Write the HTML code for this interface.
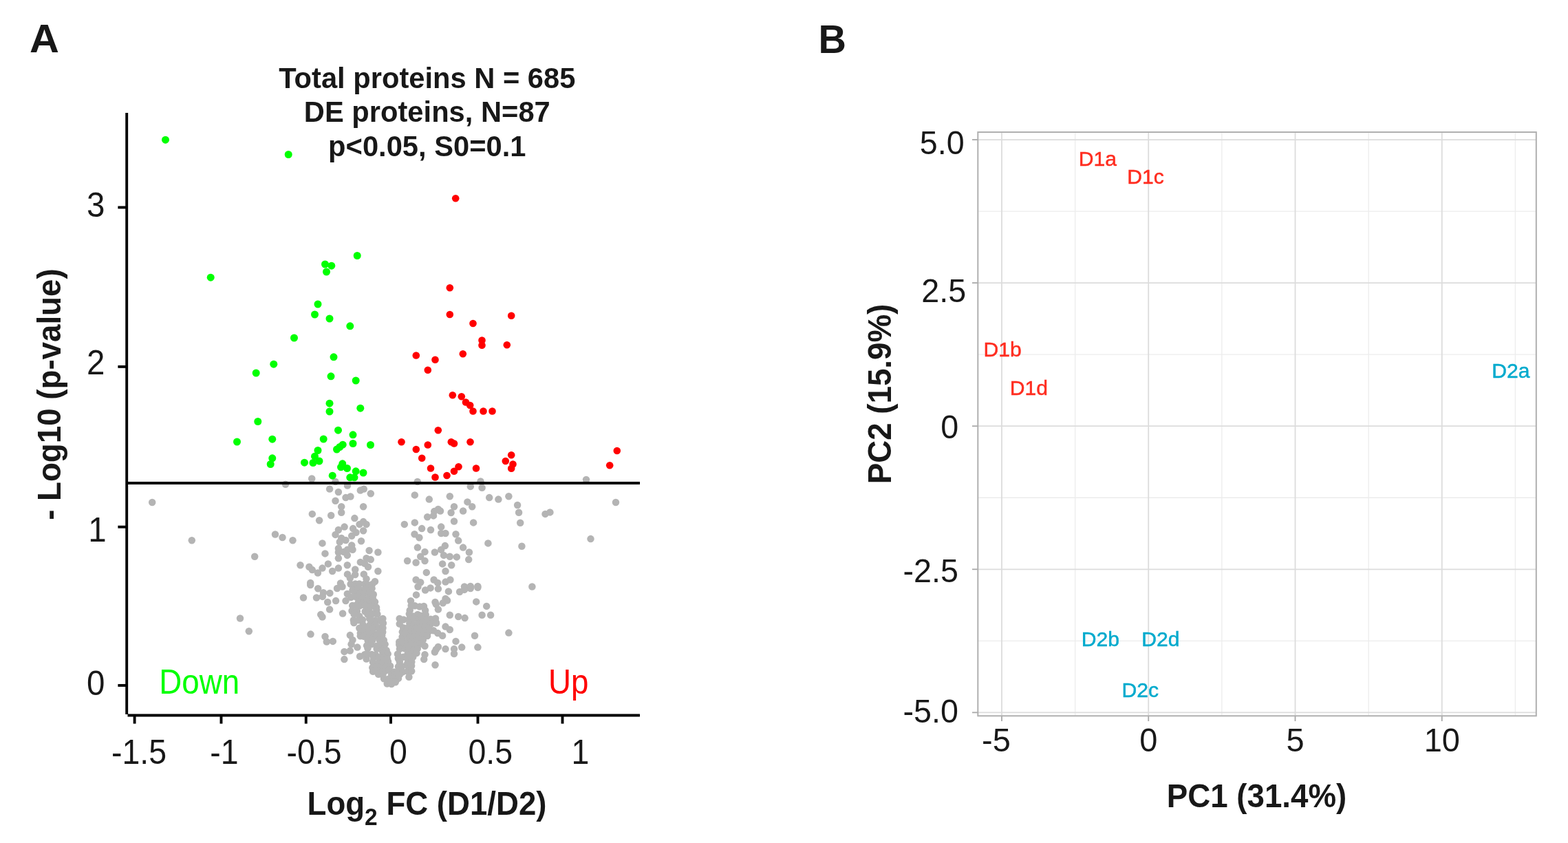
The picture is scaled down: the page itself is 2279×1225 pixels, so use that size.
<!DOCTYPE html>
<html lang="en"><head><meta charset="utf-8"><title>Figure</title>
<style>
html,body{margin:0;padding:0;background:#fff;}
body{width:2279px;height:1225px;overflow:hidden;}
svg{display:block;}
text{font-family:"Liberation Sans",sans-serif;}
.b{font-weight:bold;}
</style></head><body>
<svg width="2279" height="1225" viewBox="0 0 2279 1225">
<rect width="2279" height="1225" fill="#ffffff"/>
<g id="panelA">
<text transform="translate(43,76.2) scale(1,0.97)" font-size="59.5" fill="#181818" class="b">A</text>
<text transform="translate(620.8,128.3) scale(1,1.035)" font-size="41.7" fill="#181818" text-anchor="middle" class="b">Total proteins N = 685</text>
<text transform="translate(620.8,177.2) scale(1,1.035)" font-size="41.7" fill="#181818" text-anchor="middle" class="b">DE proteins, N=87</text>
<text transform="translate(620.8,226.6) scale(1,1.035)" font-size="41.7" fill="#181818" text-anchor="middle" class="b">p&lt;0.05, S0=0.1</text>
<g fill="#b4b4b4">
<circle cx="221.2" cy="730.0" r="5.25"/>
<circle cx="415.0" cy="703.8" r="5.25"/>
<circle cx="453.2" cy="695.5" r="5.25"/>
<circle cx="487.5" cy="700.0" r="5.25"/>
<circle cx="606.8" cy="700.0" r="5.25"/>
<circle cx="698.5" cy="699.5" r="5.25"/>
<circle cx="852.0" cy="697.0" r="5.25"/>
<circle cx="278.8" cy="785.2" r="5.25"/>
<circle cx="400.0" cy="776.5" r="5.25"/>
<circle cx="410.5" cy="781.0" r="5.25"/>
<circle cx="425.5" cy="785.2" r="5.25"/>
<circle cx="370.2" cy="808.8" r="5.25"/>
<circle cx="349.0" cy="898.5" r="5.25"/>
<circle cx="361.8" cy="917.2" r="5.25"/>
<circle cx="479.1" cy="710.6" r="5.25"/>
<circle cx="491.9" cy="715.0" r="5.25"/>
<circle cx="505.0" cy="705.6" r="5.25"/>
<circle cx="523.8" cy="712.5" r="5.25"/>
<circle cx="528.8" cy="710.6" r="5.25"/>
<circle cx="538.8" cy="717.2" r="5.25"/>
<circle cx="502.5" cy="723.1" r="5.25"/>
<circle cx="509.4" cy="721.5" r="5.25"/>
<circle cx="487.5" cy="727.8" r="5.25"/>
<circle cx="496.2" cy="736.2" r="5.25"/>
<circle cx="528.1" cy="736.2" r="5.25"/>
<circle cx="496.2" cy="744.8" r="5.25"/>
<circle cx="453.8" cy="746.9" r="5.25"/>
<circle cx="481.2" cy="749.0" r="5.25"/>
<circle cx="464.1" cy="756.2" r="5.25"/>
<circle cx="515.4" cy="753.1" r="5.25"/>
<circle cx="528.1" cy="758.1" r="5.25"/>
<circle cx="522.5" cy="761.9" r="5.25"/>
<circle cx="532.5" cy="761.9" r="5.25"/>
<circle cx="500.6" cy="765.6" r="5.25"/>
<circle cx="513.1" cy="768.1" r="5.25"/>
<circle cx="491.9" cy="770.0" r="5.25"/>
<circle cx="528.1" cy="771.2" r="5.25"/>
<circle cx="487.5" cy="776.9" r="5.25"/>
<circle cx="517.5" cy="773.8" r="5.25"/>
<circle cx="511.2" cy="778.8" r="5.25"/>
<circle cx="496.2" cy="781.9" r="5.25"/>
<circle cx="502.5" cy="785.0" r="5.25"/>
<circle cx="493.8" cy="787.5" r="5.25"/>
<circle cx="525.0" cy="786.2" r="5.25"/>
<circle cx="468.5" cy="789.4" r="5.25"/>
<circle cx="511.2" cy="792.5" r="5.25"/>
<circle cx="491.9" cy="796.9" r="5.25"/>
<circle cx="505.0" cy="798.8" r="5.25"/>
<circle cx="512.5" cy="798.8" r="5.25"/>
<circle cx="491.9" cy="802.5" r="5.25"/>
<circle cx="499.4" cy="801.9" r="5.25"/>
<circle cx="504.8" cy="806.9" r="5.25"/>
<circle cx="472.5" cy="804.4" r="5.25"/>
<circle cx="491.9" cy="811.2" r="5.25"/>
<circle cx="536.6" cy="800.0" r="5.25"/>
<circle cx="549.4" cy="802.5" r="5.25"/>
<circle cx="532.5" cy="811.2" r="5.25"/>
<circle cx="538.8" cy="813.1" r="5.25"/>
<circle cx="523.8" cy="816.9" r="5.25"/>
<circle cx="530.0" cy="818.8" r="5.25"/>
<circle cx="535.0" cy="823.8" r="5.25"/>
<circle cx="436.5" cy="821.2" r="5.25"/>
<circle cx="449.4" cy="823.8" r="5.25"/>
<circle cx="453.8" cy="828.1" r="5.25"/>
<circle cx="461.9" cy="832.5" r="5.25"/>
<circle cx="468.5" cy="825.6" r="5.25"/>
<circle cx="476.9" cy="819.4" r="5.25"/>
<circle cx="483.1" cy="830.0" r="5.25"/>
<circle cx="491.9" cy="825.6" r="5.25"/>
<circle cx="504.8" cy="821.2" r="5.25"/>
<circle cx="516.2" cy="827.5" r="5.25"/>
<circle cx="549.4" cy="830.0" r="5.25"/>
<circle cx="505.0" cy="834.4" r="5.25"/>
<circle cx="516.2" cy="835.0" r="5.25"/>
<circle cx="528.8" cy="834.4" r="5.25"/>
<circle cx="508.8" cy="840.0" r="5.25"/>
<circle cx="532.5" cy="841.2" r="5.25"/>
<circle cx="545.0" cy="845.0" r="5.25"/>
<circle cx="451.2" cy="846.9" r="5.25"/>
<circle cx="495.0" cy="847.5" r="5.25"/>
<circle cx="530.0" cy="848.8" r="5.25"/>
<circle cx="516.2" cy="851.2" r="5.25"/>
<circle cx="683.8" cy="706.9" r="5.25"/>
<circle cx="700.6" cy="708.8" r="5.25"/>
<circle cx="602.8" cy="719.4" r="5.25"/>
<circle cx="623.8" cy="725.6" r="5.25"/>
<circle cx="653.8" cy="721.2" r="5.25"/>
<circle cx="711.2" cy="723.1" r="5.25"/>
<circle cx="679.4" cy="729.4" r="5.25"/>
<circle cx="686.2" cy="736.2" r="5.25"/>
<circle cx="660.0" cy="736.2" r="5.25"/>
<circle cx="673.1" cy="742.5" r="5.25"/>
<circle cx="636.9" cy="740.0" r="5.25"/>
<circle cx="631.2" cy="743.1" r="5.25"/>
<circle cx="640.0" cy="742.5" r="5.25"/>
<circle cx="655.6" cy="745.0" r="5.25"/>
<circle cx="621.2" cy="751.2" r="5.25"/>
<circle cx="630.0" cy="749.4" r="5.25"/>
<circle cx="660.0" cy="757.5" r="5.25"/>
<circle cx="688.1" cy="759.4" r="5.25"/>
<circle cx="587.8" cy="761.9" r="5.25"/>
<circle cx="602.8" cy="759.4" r="5.25"/>
<circle cx="613.1" cy="768.1" r="5.25"/>
<circle cx="626.0" cy="770.0" r="5.25"/>
<circle cx="641.2" cy="765.6" r="5.25"/>
<circle cx="641.2" cy="775.0" r="5.25"/>
<circle cx="647.5" cy="775.0" r="5.25"/>
<circle cx="602.5" cy="776.2" r="5.25"/>
<circle cx="609.4" cy="781.2" r="5.25"/>
<circle cx="662.5" cy="776.2" r="5.25"/>
<circle cx="666.2" cy="785.6" r="5.25"/>
<circle cx="709.4" cy="789.4" r="5.25"/>
<circle cx="606.9" cy="795.6" r="5.25"/>
<circle cx="646.9" cy="793.1" r="5.25"/>
<circle cx="673.1" cy="795.6" r="5.25"/>
<circle cx="617.5" cy="801.9" r="5.25"/>
<circle cx="631.9" cy="802.5" r="5.25"/>
<circle cx="641.2" cy="798.8" r="5.25"/>
<circle cx="681.9" cy="802.5" r="5.25"/>
<circle cx="645.0" cy="806.9" r="5.25"/>
<circle cx="653.8" cy="808.8" r="5.25"/>
<circle cx="663.8" cy="809.4" r="5.25"/>
<circle cx="611.2" cy="808.8" r="5.25"/>
<circle cx="681.2" cy="813.1" r="5.25"/>
<circle cx="592.1" cy="815.0" r="5.25"/>
<circle cx="604.6" cy="817.5" r="5.25"/>
<circle cx="617.5" cy="815.0" r="5.25"/>
<circle cx="643.1" cy="819.4" r="5.25"/>
<circle cx="656.2" cy="821.2" r="5.25"/>
<circle cx="647.5" cy="830.0" r="5.25"/>
<circle cx="619.8" cy="831.9" r="5.25"/>
<circle cx="604.6" cy="842.5" r="5.25"/>
<circle cx="611.2" cy="846.2" r="5.25"/>
<circle cx="630.6" cy="842.5" r="5.25"/>
<circle cx="636.2" cy="846.9" r="5.25"/>
<circle cx="647.5" cy="845.6" r="5.25"/>
<circle cx="654.4" cy="842.5" r="5.25"/>
<circle cx="675.0" cy="852.5" r="5.25"/>
<circle cx="683.8" cy="851.9" r="5.25"/>
<circle cx="694.4" cy="851.9" r="5.25"/>
<circle cx="724.4" cy="725.6" r="5.25"/>
<circle cx="739.4" cy="721.2" r="5.25"/>
<circle cx="752.1" cy="734.0" r="5.25"/>
<circle cx="754.1" cy="744.8" r="5.25"/>
<circle cx="792.5" cy="746.9" r="5.25"/>
<circle cx="799.4" cy="744.4" r="5.25"/>
<circle cx="756.2" cy="759.8" r="5.25"/>
<circle cx="895.0" cy="730.0" r="5.25"/>
<circle cx="858.5" cy="783.1" r="5.25"/>
<circle cx="758.4" cy="793.8" r="5.25"/>
<circle cx="773.4" cy="852.5" r="5.25"/>
<circle cx="441.0" cy="868.5" r="5.25"/>
<circle cx="462.2" cy="855.2" r="5.25"/>
<circle cx="451.2" cy="850.0" r="5.25"/>
<circle cx="470.0" cy="861.2" r="5.25"/>
<circle cx="479.4" cy="861.9" r="5.25"/>
<circle cx="460.0" cy="868.5" r="5.25"/>
<circle cx="468.8" cy="866.9" r="5.25"/>
<circle cx="476.2" cy="875.0" r="5.25"/>
<circle cx="488.1" cy="873.1" r="5.25"/>
<circle cx="490.0" cy="855.0" r="5.25"/>
<circle cx="497.5" cy="852.5" r="5.25"/>
<circle cx="502.5" cy="873.1" r="5.25"/>
<circle cx="479.1" cy="885.6" r="5.25"/>
<circle cx="466.2" cy="893.1" r="5.25"/>
<circle cx="468.5" cy="896.5" r="5.25"/>
<circle cx="498.1" cy="891.5" r="5.25"/>
<circle cx="451.5" cy="921.6" r="5.25"/>
<circle cx="472.5" cy="925.0" r="5.25"/>
<circle cx="474.8" cy="932.5" r="5.25"/>
<circle cx="483.8" cy="931.9" r="5.25"/>
<circle cx="508.8" cy="923.1" r="5.25"/>
<circle cx="512.5" cy="930.0" r="5.25"/>
<circle cx="510.6" cy="936.2" r="5.25"/>
<circle cx="519.4" cy="940.6" r="5.25"/>
<circle cx="508.8" cy="945.6" r="5.25"/>
<circle cx="500.4" cy="946.9" r="5.25"/>
<circle cx="500.4" cy="958.1" r="5.25"/>
<circle cx="523.1" cy="953.8" r="5.25"/>
<circle cx="530.0" cy="951.2" r="5.25"/>
<circle cx="532.5" cy="957.5" r="5.25"/>
<circle cx="694.4" cy="853.8" r="5.25"/>
<circle cx="683.8" cy="855.0" r="5.25"/>
<circle cx="675.0" cy="856.9" r="5.25"/>
<circle cx="668.1" cy="860.0" r="5.25"/>
<circle cx="651.9" cy="859.4" r="5.25"/>
<circle cx="636.9" cy="855.6" r="5.25"/>
<circle cx="625.6" cy="854.4" r="5.25"/>
<circle cx="618.1" cy="857.5" r="5.25"/>
<circle cx="607.5" cy="852.5" r="5.25"/>
<circle cx="605.0" cy="864.4" r="5.25"/>
<circle cx="647.5" cy="870.0" r="5.25"/>
<circle cx="650.0" cy="872.5" r="5.25"/>
<circle cx="643.8" cy="876.2" r="5.25"/>
<circle cx="632.5" cy="875.0" r="5.25"/>
<circle cx="633.8" cy="878.1" r="5.25"/>
<circle cx="636.9" cy="885.6" r="5.25"/>
<circle cx="692.2" cy="874.4" r="5.25"/>
<circle cx="707.2" cy="880.9" r="5.25"/>
<circle cx="653.8" cy="893.8" r="5.25"/>
<circle cx="666.2" cy="896.0" r="5.25"/>
<circle cx="675.6" cy="898.1" r="5.25"/>
<circle cx="700.6" cy="893.8" r="5.25"/>
<circle cx="713.1" cy="893.8" r="5.25"/>
<circle cx="647.5" cy="910.6" r="5.25"/>
<circle cx="653.8" cy="915.0" r="5.25"/>
<circle cx="633.8" cy="904.4" r="5.25"/>
<circle cx="627.5" cy="904.4" r="5.25"/>
<circle cx="630.0" cy="916.2" r="5.25"/>
<circle cx="636.2" cy="920.0" r="5.25"/>
<circle cx="643.1" cy="923.8" r="5.25"/>
<circle cx="690.0" cy="923.8" r="5.25"/>
<circle cx="662.5" cy="931.9" r="5.25"/>
<circle cx="671.2" cy="940.6" r="5.25"/>
<circle cx="694.4" cy="940.6" r="5.25"/>
<circle cx="660.0" cy="943.1" r="5.25"/>
<circle cx="660.0" cy="950.0" r="5.25"/>
<circle cx="647.5" cy="943.1" r="5.25"/>
<circle cx="636.9" cy="940.0" r="5.25"/>
<circle cx="633.8" cy="943.8" r="5.25"/>
<circle cx="631.9" cy="947.5" r="5.25"/>
<circle cx="617.5" cy="938.8" r="5.25"/>
<circle cx="617.5" cy="951.2" r="5.25"/>
<circle cx="616.2" cy="958.1" r="5.25"/>
<circle cx="632.5" cy="966.2" r="5.25"/>
<circle cx="594.4" cy="983.8" r="5.25"/>
<circle cx="739.4" cy="919.6" r="5.25"/>
<circle cx="509.6" cy="848.8" r="5.25"/>
<circle cx="516.5" cy="848.5" r="5.25"/>
<circle cx="522.1" cy="848.5" r="5.25"/>
<circle cx="534.1" cy="849.7" r="5.25"/>
<circle cx="541.1" cy="849.0" r="5.25"/>
<circle cx="512.4" cy="857.8" r="5.25"/>
<circle cx="519.4" cy="855.9" r="5.25"/>
<circle cx="525.1" cy="857.5" r="5.25"/>
<circle cx="532.4" cy="854.9" r="5.25"/>
<circle cx="540.6" cy="855.1" r="5.25"/>
<circle cx="504.8" cy="863.0" r="5.25"/>
<circle cx="516.3" cy="861.5" r="5.25"/>
<circle cx="523.6" cy="861.8" r="5.25"/>
<circle cx="530.0" cy="861.8" r="5.25"/>
<circle cx="536.9" cy="861.6" r="5.25"/>
<circle cx="542.8" cy="863.8" r="5.25"/>
<circle cx="510.0" cy="868.0" r="5.25"/>
<circle cx="517.3" cy="867.4" r="5.25"/>
<circle cx="523.1" cy="867.5" r="5.25"/>
<circle cx="527.6" cy="869.3" r="5.25"/>
<circle cx="535.3" cy="870.1" r="5.25"/>
<circle cx="541.7" cy="869.1" r="5.25"/>
<circle cx="521.1" cy="874.8" r="5.25"/>
<circle cx="527.9" cy="876.6" r="5.25"/>
<circle cx="533.5" cy="873.5" r="5.25"/>
<circle cx="539.6" cy="876.7" r="5.25"/>
<circle cx="545.0" cy="874.6" r="5.25"/>
<circle cx="597.0" cy="873.3" r="5.25"/>
<circle cx="512.2" cy="880.1" r="5.25"/>
<circle cx="517.1" cy="879.7" r="5.25"/>
<circle cx="522.9" cy="880.4" r="5.25"/>
<circle cx="530.6" cy="879.8" r="5.25"/>
<circle cx="535.6" cy="882.6" r="5.25"/>
<circle cx="542.2" cy="880.5" r="5.25"/>
<circle cx="547.0" cy="882.6" r="5.25"/>
<circle cx="597.7" cy="880.0" r="5.25"/>
<circle cx="602.9" cy="880.3" r="5.25"/>
<circle cx="610.0" cy="881.6" r="5.25"/>
<circle cx="616.0" cy="881.0" r="5.25"/>
<circle cx="511.5" cy="887.7" r="5.25"/>
<circle cx="518.8" cy="888.2" r="5.25"/>
<circle cx="530.7" cy="888.5" r="5.25"/>
<circle cx="536.5" cy="887.1" r="5.25"/>
<circle cx="547.3" cy="886.5" r="5.25"/>
<circle cx="595.7" cy="886.9" r="5.25"/>
<circle cx="618.1" cy="887.0" r="5.25"/>
<circle cx="514.6" cy="892.4" r="5.25"/>
<circle cx="522.3" cy="895.5" r="5.25"/>
<circle cx="534.5" cy="892.9" r="5.25"/>
<circle cx="540.8" cy="892.1" r="5.25"/>
<circle cx="548.4" cy="892.5" r="5.25"/>
<circle cx="594.8" cy="892.1" r="5.25"/>
<circle cx="600.7" cy="895.4" r="5.25"/>
<circle cx="607.1" cy="892.9" r="5.25"/>
<circle cx="611.6" cy="894.7" r="5.25"/>
<circle cx="618.7" cy="893.2" r="5.25"/>
<circle cx="513.8" cy="901.1" r="5.25"/>
<circle cx="521.4" cy="901.2" r="5.25"/>
<circle cx="527.0" cy="900.8" r="5.25"/>
<circle cx="537.2" cy="899.2" r="5.25"/>
<circle cx="544.9" cy="901.6" r="5.25"/>
<circle cx="551.5" cy="901.7" r="5.25"/>
<circle cx="556.4" cy="899.0" r="5.25"/>
<circle cx="580.7" cy="898.9" r="5.25"/>
<circle cx="586.7" cy="900.4" r="5.25"/>
<circle cx="594.8" cy="899.9" r="5.25"/>
<circle cx="601.2" cy="898.5" r="5.25"/>
<circle cx="607.9" cy="901.0" r="5.25"/>
<circle cx="613.3" cy="898.9" r="5.25"/>
<circle cx="619.4" cy="901.1" r="5.25"/>
<circle cx="626.0" cy="899.7" r="5.25"/>
<circle cx="633.0" cy="898.8" r="5.25"/>
<circle cx="514.4" cy="905.0" r="5.25"/>
<circle cx="527.7" cy="907.9" r="5.25"/>
<circle cx="537.7" cy="907.9" r="5.25"/>
<circle cx="545.1" cy="907.8" r="5.25"/>
<circle cx="556.9" cy="905.5" r="5.25"/>
<circle cx="580.7" cy="906.6" r="5.25"/>
<circle cx="595.3" cy="905.7" r="5.25"/>
<circle cx="601.1" cy="907.7" r="5.25"/>
<circle cx="608.5" cy="906.3" r="5.25"/>
<circle cx="614.2" cy="904.6" r="5.25"/>
<circle cx="620.0" cy="904.5" r="5.25"/>
<circle cx="626.6" cy="906.2" r="5.25"/>
<circle cx="634.1" cy="905.6" r="5.25"/>
<circle cx="522.3" cy="912.7" r="5.25"/>
<circle cx="529.8" cy="911.1" r="5.25"/>
<circle cx="535.3" cy="911.7" r="5.25"/>
<circle cx="542.8" cy="912.7" r="5.25"/>
<circle cx="550.7" cy="912.3" r="5.25"/>
<circle cx="556.5" cy="912.5" r="5.25"/>
<circle cx="586.2" cy="912.3" r="5.25"/>
<circle cx="592.4" cy="912.4" r="5.25"/>
<circle cx="599.2" cy="913.8" r="5.25"/>
<circle cx="604.4" cy="912.7" r="5.25"/>
<circle cx="612.2" cy="911.2" r="5.25"/>
<circle cx="617.5" cy="911.0" r="5.25"/>
<circle cx="623.6" cy="913.1" r="5.25"/>
<circle cx="523.8" cy="920.1" r="5.25"/>
<circle cx="529.2" cy="919.5" r="5.25"/>
<circle cx="535.8" cy="920.1" r="5.25"/>
<circle cx="542.6" cy="920.3" r="5.25"/>
<circle cx="549.9" cy="920.5" r="5.25"/>
<circle cx="556.2" cy="918.5" r="5.25"/>
<circle cx="584.8" cy="918.2" r="5.25"/>
<circle cx="590.5" cy="918.1" r="5.25"/>
<circle cx="596.6" cy="918.9" r="5.25"/>
<circle cx="603.2" cy="918.2" r="5.25"/>
<circle cx="610.9" cy="917.2" r="5.25"/>
<circle cx="618.2" cy="920.4" r="5.25"/>
<circle cx="623.8" cy="917.1" r="5.25"/>
<circle cx="523.8" cy="924.2" r="5.25"/>
<circle cx="528.9" cy="924.7" r="5.25"/>
<circle cx="537.0" cy="924.2" r="5.25"/>
<circle cx="543.6" cy="925.2" r="5.25"/>
<circle cx="547.9" cy="923.5" r="5.25"/>
<circle cx="555.2" cy="923.5" r="5.25"/>
<circle cx="584.6" cy="925.5" r="5.25"/>
<circle cx="591.1" cy="923.5" r="5.25"/>
<circle cx="595.5" cy="926.3" r="5.25"/>
<circle cx="602.4" cy="925.2" r="5.25"/>
<circle cx="608.5" cy="923.7" r="5.25"/>
<circle cx="614.6" cy="923.6" r="5.25"/>
<circle cx="621.1" cy="924.0" r="5.25"/>
<circle cx="534.6" cy="930.6" r="5.25"/>
<circle cx="541.1" cy="930.5" r="5.25"/>
<circle cx="551.4" cy="929.6" r="5.25"/>
<circle cx="557.8" cy="930.2" r="5.25"/>
<circle cx="580.3" cy="932.8" r="5.25"/>
<circle cx="585.2" cy="932.4" r="5.25"/>
<circle cx="592.0" cy="932.4" r="5.25"/>
<circle cx="597.8" cy="931.9" r="5.25"/>
<circle cx="603.2" cy="932.4" r="5.25"/>
<circle cx="609.8" cy="930.9" r="5.25"/>
<circle cx="614.8" cy="930.0" r="5.25"/>
<circle cx="533.1" cy="938.3" r="5.25"/>
<circle cx="539.4" cy="936.3" r="5.25"/>
<circle cx="547.4" cy="938.8" r="5.25"/>
<circle cx="552.5" cy="936.6" r="5.25"/>
<circle cx="559.6" cy="936.3" r="5.25"/>
<circle cx="580.3" cy="936.7" r="5.25"/>
<circle cx="587.5" cy="939.2" r="5.25"/>
<circle cx="591.7" cy="939.1" r="5.25"/>
<circle cx="597.9" cy="935.8" r="5.25"/>
<circle cx="604.2" cy="937.5" r="5.25"/>
<circle cx="610.3" cy="935.8" r="5.25"/>
<circle cx="534.5" cy="942.3" r="5.25"/>
<circle cx="547.6" cy="942.8" r="5.25"/>
<circle cx="554.9" cy="944.6" r="5.25"/>
<circle cx="561.7" cy="945.1" r="5.25"/>
<circle cx="580.9" cy="943.1" r="5.25"/>
<circle cx="588.6" cy="942.5" r="5.25"/>
<circle cx="594.1" cy="942.2" r="5.25"/>
<circle cx="601.1" cy="944.2" r="5.25"/>
<circle cx="606.8" cy="942.5" r="5.25"/>
<circle cx="533.5" cy="950.0" r="5.25"/>
<circle cx="540.3" cy="951.1" r="5.25"/>
<circle cx="545.7" cy="951.4" r="5.25"/>
<circle cx="556.5" cy="949.5" r="5.25"/>
<circle cx="563.7" cy="950.2" r="5.25"/>
<circle cx="578.0" cy="950.4" r="5.25"/>
<circle cx="592.3" cy="950.9" r="5.25"/>
<circle cx="598.5" cy="950.6" r="5.25"/>
<circle cx="605.5" cy="949.1" r="5.25"/>
<circle cx="543.1" cy="955.4" r="5.25"/>
<circle cx="550.5" cy="955.2" r="5.25"/>
<circle cx="557.5" cy="956.2" r="5.25"/>
<circle cx="562.7" cy="956.9" r="5.25"/>
<circle cx="578.8" cy="956.7" r="5.25"/>
<circle cx="586.1" cy="954.8" r="5.25"/>
<circle cx="592.4" cy="957.1" r="5.25"/>
<circle cx="600.3" cy="954.5" r="5.25"/>
<circle cx="541.8" cy="961.7" r="5.25"/>
<circle cx="549.9" cy="963.2" r="5.25"/>
<circle cx="556.2" cy="962.6" r="5.25"/>
<circle cx="564.0" cy="961.2" r="5.25"/>
<circle cx="580.8" cy="961.4" r="5.25"/>
<circle cx="592.3" cy="963.6" r="5.25"/>
<circle cx="598.3" cy="961.7" r="5.25"/>
<circle cx="541.3" cy="970.3" r="5.25"/>
<circle cx="547.1" cy="969.0" r="5.25"/>
<circle cx="554.2" cy="970.3" r="5.25"/>
<circle cx="561.1" cy="968.8" r="5.25"/>
<circle cx="567.1" cy="967.8" r="5.25"/>
<circle cx="579.0" cy="968.6" r="5.25"/>
<circle cx="584.4" cy="968.2" r="5.25"/>
<circle cx="592.4" cy="967.0" r="5.25"/>
<circle cx="598.1" cy="967.4" r="5.25"/>
<circle cx="542.1" cy="975.7" r="5.25"/>
<circle cx="548.9" cy="974.3" r="5.25"/>
<circle cx="553.8" cy="976.7" r="5.25"/>
<circle cx="560.0" cy="974.7" r="5.25"/>
<circle cx="565.4" cy="973.6" r="5.25"/>
<circle cx="572.3" cy="976.5" r="5.25"/>
<circle cx="578.5" cy="975.0" r="5.25"/>
<circle cx="585.0" cy="976.6" r="5.25"/>
<circle cx="592.3" cy="975.5" r="5.25"/>
<circle cx="598.2" cy="975.2" r="5.25"/>
<circle cx="550.0" cy="979.7" r="5.25"/>
<circle cx="556.4" cy="981.1" r="5.25"/>
<circle cx="569.1" cy="979.9" r="5.25"/>
<circle cx="573.8" cy="980.5" r="5.25"/>
<circle cx="580.7" cy="980.4" r="5.25"/>
<circle cx="558.0" cy="986.2" r="5.25"/>
<circle cx="565.1" cy="986.5" r="5.25"/>
<circle cx="571.1" cy="985.9" r="5.25"/>
<circle cx="579.0" cy="985.9" r="5.25"/>
<circle cx="562.7" cy="993.6" r="5.25"/>
<circle cx="568.6" cy="990.6" r="5.25"/>
<circle cx="574.8" cy="991.3" r="5.25"/>
<circle cx="569.0" cy="994.1" r="5.25"/>
</g>
<line x1="185" y1="702" x2="930" y2="702" stroke="#000" stroke-width="4"/>
<g fill="#00ff00">
<circle cx="240.5" cy="203.2" r="5.5"/>
<circle cx="419.2" cy="224.5" r="5.5"/>
<circle cx="519.2" cy="371.5" r="5.5"/>
<circle cx="472.5" cy="384.0" r="5.5"/>
<circle cx="481.8" cy="386.2" r="5.5"/>
<circle cx="474.5" cy="395.0" r="5.5"/>
<circle cx="306.2" cy="403.2" r="5.5"/>
<circle cx="462.0" cy="442.0" r="5.5"/>
<circle cx="457.5" cy="457.0" r="5.5"/>
<circle cx="479.0" cy="463.0" r="5.5"/>
<circle cx="508.8" cy="473.8" r="5.5"/>
<circle cx="427.5" cy="491.0" r="5.5"/>
<circle cx="485.0" cy="518.8" r="5.5"/>
<circle cx="397.8" cy="529.2" r="5.5"/>
<circle cx="372.2" cy="542.0" r="5.5"/>
<circle cx="481.0" cy="546.8" r="5.5"/>
<circle cx="517.2" cy="553.0" r="5.5"/>
<circle cx="479.0" cy="586.2" r="5.5"/>
<circle cx="523.8" cy="593.2" r="5.5"/>
<circle cx="479.0" cy="598.0" r="5.5"/>
<circle cx="374.8" cy="612.5" r="5.5"/>
<circle cx="491.5" cy="625.2" r="5.5"/>
<circle cx="513.0" cy="631.8" r="5.5"/>
<circle cx="470.2" cy="638.0" r="5.5"/>
<circle cx="395.8" cy="638.2" r="5.5"/>
<circle cx="344.5" cy="642.0" r="5.5"/>
<circle cx="513.0" cy="644.5" r="5.5"/>
<circle cx="538.5" cy="646.5" r="5.5"/>
<circle cx="498.2" cy="646.2" r="5.5"/>
<circle cx="493.8" cy="649.5" r="5.5"/>
<circle cx="489.5" cy="653.0" r="5.5"/>
<circle cx="462.0" cy="654.5" r="5.5"/>
<circle cx="457.5" cy="663.2" r="5.5"/>
<circle cx="395.8" cy="665.8" r="5.5"/>
<circle cx="464.0" cy="670.0" r="5.5"/>
<circle cx="455.0" cy="672.5" r="5.5"/>
<circle cx="442.5" cy="672.2" r="5.5"/>
<circle cx="393.2" cy="674.5" r="5.5"/>
<circle cx="497.8" cy="673.8" r="5.5"/>
<circle cx="495.5" cy="678.8" r="5.5"/>
<circle cx="504.5" cy="680.5" r="5.5"/>
<circle cx="517.2" cy="684.8" r="5.5"/>
<circle cx="528.0" cy="687.0" r="5.5"/>
<circle cx="483.2" cy="691.2" r="5.5"/>
<circle cx="508.8" cy="693.8" r="5.5"/>
<circle cx="515.0" cy="693.8" r="5.5"/>
</g>
<g fill="#ff0000">
<circle cx="662.2" cy="288.2" r="5.3"/>
<circle cx="653.8" cy="418.2" r="5.3"/>
<circle cx="653.8" cy="457.0" r="5.3"/>
<circle cx="743.2" cy="458.8" r="5.3"/>
<circle cx="687.5" cy="470.0" r="5.3"/>
<circle cx="700.5" cy="494.5" r="5.3"/>
<circle cx="700.5" cy="501.8" r="5.3"/>
<circle cx="736.8" cy="501.2" r="5.3"/>
<circle cx="672.8" cy="514.2" r="5.3"/>
<circle cx="604.8" cy="516.5" r="5.3"/>
<circle cx="632.5" cy="522.8" r="5.3"/>
<circle cx="621.8" cy="537.8" r="5.3"/>
<circle cx="657.8" cy="574.2" r="5.3"/>
<circle cx="670.8" cy="576.2" r="5.3"/>
<circle cx="677.0" cy="584.5" r="5.3"/>
<circle cx="683.2" cy="589.0" r="5.3"/>
<circle cx="687.5" cy="597.5" r="5.3"/>
<circle cx="702.5" cy="597.5" r="5.3"/>
<circle cx="715.5" cy="597.5" r="5.3"/>
<circle cx="636.8" cy="625.2" r="5.3"/>
<circle cx="583.5" cy="642.2" r="5.3"/>
<circle cx="655.8" cy="642.2" r="5.3"/>
<circle cx="660.0" cy="644.5" r="5.3"/>
<circle cx="683.5" cy="642.2" r="5.3"/>
<circle cx="621.8" cy="646.5" r="5.3"/>
<circle cx="604.8" cy="653.0" r="5.3"/>
<circle cx="613.2" cy="665.8" r="5.3"/>
<circle cx="743.2" cy="661.2" r="5.3"/>
<circle cx="734.8" cy="670.0" r="5.3"/>
<circle cx="745.5" cy="674.5" r="5.3"/>
<circle cx="743.2" cy="680.8" r="5.3"/>
<circle cx="626.0" cy="680.5" r="5.3"/>
<circle cx="666.5" cy="678.2" r="5.3"/>
<circle cx="660.0" cy="684.8" r="5.3"/>
<circle cx="692.0" cy="680.5" r="5.3"/>
<circle cx="649.5" cy="691.0" r="5.3"/>
<circle cx="632.5" cy="693.5" r="5.3"/>
<circle cx="896.8" cy="655.0" r="5.3"/>
<circle cx="886.2" cy="676.2" r="5.3"/>
</g>
<g stroke="#000" stroke-width="3.9" fill="none">
<line x1="184.2" y1="164" x2="184.2" y2="1038"/>
<line x1="185.5" y1="1039.5" x2="930" y2="1039.5"/>
<line x1="195.6" y1="1039.5" x2="195.6" y2="1051.6"/>
<line x1="321.5" y1="1039.5" x2="321.5" y2="1051.6"/>
<line x1="444.75" y1="1039.5" x2="444.75" y2="1051.6"/>
<line x1="568" y1="1039.5" x2="568" y2="1051.6"/>
<line x1="694.5" y1="1039.5" x2="694.5" y2="1051.6"/>
<line x1="817.5" y1="1039.5" x2="817.5" y2="1051.6"/>
<line x1="171.4" y1="301.4" x2="184.2" y2="301.4"/>
<line x1="171.4" y1="532.9" x2="184.2" y2="532.9"/>
<line x1="171.4" y1="765.7" x2="184.2" y2="765.7"/>
<line x1="171.4" y1="996.0" x2="184.2" y2="996.0"/>
</g>
<text transform="translate(202,1110.3) scale(1,1.08)" font-size="46.5" fill="#181818" text-anchor="middle">-1.5</text>
<text transform="translate(326,1110.3) scale(1,1.08)" font-size="46.5" fill="#181818" text-anchor="middle">-1</text>
<text transform="translate(456.6,1110.3) scale(1,1.08)" font-size="46.5" fill="#181818" text-anchor="middle">-0.5</text>
<text transform="translate(579,1110.3) scale(1,1.08)" font-size="46.5" fill="#181818" text-anchor="middle">0</text>
<text transform="translate(712.8,1110.3) scale(1,1.08)" font-size="46.5" fill="#181818" text-anchor="middle">0.5</text>
<text transform="translate(843.5,1110.3) scale(1,1.08)" font-size="46.5" fill="#181818" text-anchor="middle">1</text>
<text transform="translate(152.5,315.0) scale(1,1.07)" font-size="47.5" fill="#181818" text-anchor="end">3</text>
<text transform="translate(152.5,544.4) scale(1,1.07)" font-size="47.5" fill="#181818" text-anchor="end">2</text>
<text transform="translate(154.6,787.3) scale(1,1.07)" font-size="47.5" fill="#181818" text-anchor="end">1</text>
<text transform="translate(152.5,1009.6) scale(1,1.07)" font-size="47.5" fill="#181818" text-anchor="end">0</text>
<text transform="translate(231.3,1007.9) scale(1,1.09)" font-size="45.7" fill="#00ff00">Down</text>
<text transform="translate(796.9,1007.9) scale(1,1.09)" font-size="45.7" fill="#ff0000">Up</text>
<text transform="translate(620.5,1184) scale(1,1.04)" font-size="45.6" fill="#181818" text-anchor="middle" class="b">Log<tspan font-size="33.5" dy="14">2</tspan><tspan dy="-14"> FC (D1/D2)</tspan></text>
<text transform="translate(87.5,573.1) rotate(-90) scale(1,1.04)" font-size="45.7" fill="#181818" text-anchor="middle" class="b">- Log10 (p-value)</text>
</g>
<g id="panelB">
<text transform="translate(1189.6,77) scale(1,1.04)" font-size="56" fill="#181818" class="b">B</text>
<g stroke="#ececec" stroke-width="1.3">
<line x1="1562.62" y1="192.0" x2="1562.62" y2="1040.3"/>
<line x1="1775.88" y1="192.0" x2="1775.88" y2="1040.3"/>
<line x1="1989.12" y1="192.0" x2="1989.12" y2="1040.3"/>
<line x1="2202.38" y1="192.0" x2="2202.38" y2="1040.3"/>
<line x1="1421.3" y1="307.07" x2="2232.8" y2="307.07"/>
<line x1="1421.3" y1="515.16" x2="2232.8" y2="515.16"/>
<line x1="1421.3" y1="723.24" x2="2232.8" y2="723.24"/>
<line x1="1421.3" y1="931.33" x2="2232.8" y2="931.33"/>
</g>
<g stroke="#dcdcdc" stroke-width="1.8">
<line x1="1456.00" y1="192.0" x2="1456.00" y2="1040.3"/>
<line x1="1669.25" y1="192.0" x2="1669.25" y2="1040.3"/>
<line x1="1882.50" y1="192.0" x2="1882.50" y2="1040.3"/>
<line x1="2095.75" y1="192.0" x2="2095.75" y2="1040.3"/>
<line x1="1421.3" y1="203.03" x2="2232.8" y2="203.03"/>
<line x1="1421.3" y1="411.11" x2="2232.8" y2="411.11"/>
<line x1="1421.3" y1="619.20" x2="2232.8" y2="619.20"/>
<line x1="1421.3" y1="827.29" x2="2232.8" y2="827.29"/>
<line x1="1421.3" y1="1035.38" x2="2232.8" y2="1035.38"/>
</g>
<g stroke="#a8a8a8" stroke-width="1.8">
<line x1="1456.00" y1="1040.3" x2="1456.00" y2="1048"/>
<line x1="1669.25" y1="1040.3" x2="1669.25" y2="1048"/>
<line x1="1882.50" y1="1040.3" x2="1882.50" y2="1048"/>
<line x1="2095.75" y1="1040.3" x2="2095.75" y2="1048"/>
<line x1="1413" y1="203.03" x2="1421.3" y2="203.03"/>
<line x1="1413" y1="411.11" x2="1421.3" y2="411.11"/>
<line x1="1413" y1="619.20" x2="1421.3" y2="619.20"/>
<line x1="1413" y1="827.29" x2="1421.3" y2="827.29"/>
<line x1="1413" y1="1035.38" x2="1421.3" y2="1035.38"/>
</g>
<rect x="1421.3" y="192.0" width="811.5000000000002" height="848.3" fill="none" stroke="#b0b0b0" stroke-width="2"/>
<text transform="translate(1448.0,1091.5) scale(1,1.03)" font-size="47" fill="#181818" text-anchor="middle">-5</text>
<text transform="translate(1669.2,1091.5) scale(1,1.03)" font-size="47" fill="#181818" text-anchor="middle">0</text>
<text transform="translate(1882.5,1091.5) scale(1,1.03)" font-size="47" fill="#181818" text-anchor="middle">5</text>
<text transform="translate(2095.8,1091.5) scale(1,1.03)" font-size="47" fill="#181818" text-anchor="middle">10</text>
<text transform="translate(1401.7,223.8) scale(1,1.025)" font-size="46.7" fill="#181818" text-anchor="end">5.0</text>
<text transform="translate(1404.2,438.7) scale(1,1.025)" font-size="46.7" fill="#181818" text-anchor="end">2.5</text>
<text transform="translate(1393.2,636.6) scale(1,1.025)" font-size="46.7" fill="#181818" text-anchor="end">0</text>
<text transform="translate(1392.9,845.5) scale(1,1.025)" font-size="46.7" fill="#181818" text-anchor="end">-2.5</text>
<text transform="translate(1393,1049.5) scale(1,1.025)" font-size="46.7" fill="#181818" text-anchor="end">-5.0</text>
<text transform="translate(1567.8,241)" font-size="30.1" fill="#ff2d20" stroke="#ff2d20" stroke-width="0.5">D1a</text>
<text transform="translate(1638.3,266.7)" font-size="30.1" fill="#ff2d20" stroke="#ff2d20" stroke-width="0.5">D1c</text>
<text transform="translate(1429.6,518)" font-size="30.1" fill="#ff2d20" stroke="#ff2d20" stroke-width="0.5">D1b</text>
<text transform="translate(1467.8,574.3)" font-size="30.1" fill="#ff2d20" stroke="#ff2d20" stroke-width="0.5">D1d</text>
<text transform="translate(2168.2,548.5)" font-size="30.1" fill="#00aacd" stroke="#00aacd" stroke-width="0.5">D2a</text>
<text transform="translate(1571.8,938.5)" font-size="30.1" fill="#00aacd" stroke="#00aacd" stroke-width="0.5">D2b</text>
<text transform="translate(1659.3,938.5)" font-size="30.1" fill="#00aacd" stroke="#00aacd" stroke-width="0.5">D2d</text>
<text transform="translate(1630.6,1012.8)" font-size="30.1" fill="#00aacd" stroke="#00aacd" stroke-width="0.5">D2c</text>
<text transform="translate(1826.5,1172.8) scale(1,1.06)" font-size="45.7" fill="#181818" text-anchor="middle" class="b">PC1 (31.4%)</text>
<text transform="translate(1295.2,572.5) rotate(-90) scale(1,1.06)" font-size="45.7" fill="#181818" text-anchor="middle" class="b">PC2 (15.9%)</text>
</g>
</svg></body></html>
